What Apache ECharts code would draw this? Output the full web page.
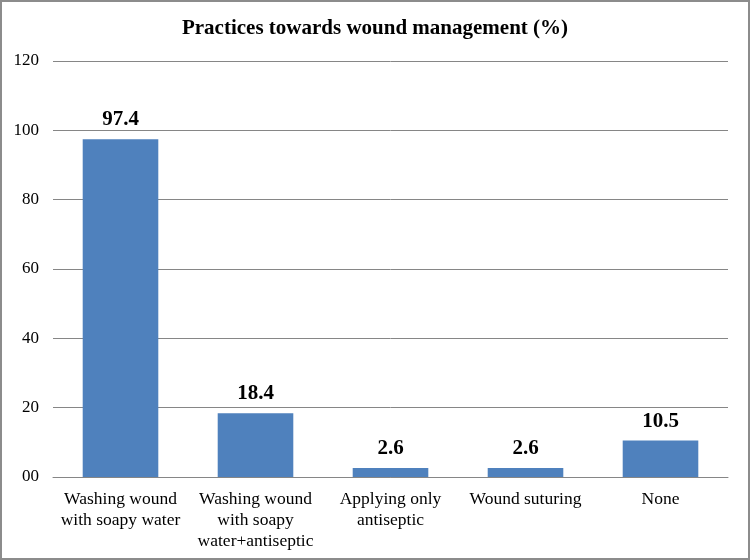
<!DOCTYPE html>
<html>
<head>
<meta charset="utf-8">
<script src="https://cdn.jsdelivr.net/npm/echarts@6/dist/echarts.min.js"></script>
<style>
  html, body { margin: 0; padding: 0; background: #fff; }
  #chart { width: 746px; height: 556px; border: 2px solid #8c8c8c; }
</style>
</head>
<body>
<div id="chart"></div>
<script>
// categories and values
var categories = [
  'Washing wound\nwith soapy water',
  'Washing wound\nwith soapy\nwater+antiseptic',
  'Applying only\nantiseptic',
  'Wound suturing',
  'None'
]
var values = [97.4, 18.4, 2.6, 2.6, 10.5]
var yTicks = [0, 20, 40, 60, 80, 100, 120]

var chart = echarts.init(document.getElementById('chart'))
var font = '"Liberation Serif", "Times New Roman", serif'

var option = {
  animation: false,
  title: {
    text: 'Practices towards wound management (%)',
    left: 'center',
    top: 11,
    textStyle: { fontFamily: font, fontSize: 21, fontWeight: 'bold', color: '#000' }
  },
  grid: { left: 51, right: 20, top: 59, bottom: 81 },
  xAxis: {
    type: 'category',
    data: categories,
    axisTick: { show: false },
    axisLine: { lineStyle: { color: '#868686', width: 1 } },
    axisLabel: {
      interval: 0,
      margin: 12,
      fontFamily: font,
      fontSize: 17.5,
      lineHeight: 21,
      color: '#000'
    }
  },
  yAxis: {
    type: 'value',
    min: yTicks[0],
    max: yTicks[yTicks.length - 1],
    interval: 20,
    axisLine: { show: false },
    axisTick: { show: false },
    splitLine: { lineStyle: { color: '#868686', width: 1 } },
    axisLabel: {
      margin: 14,
      fontFamily: font,
      fontSize: 17,
      color: '#000',
      formatter: function (val) {
        return val === 0 ? '00' : String(val)
      }
    }
  },
  series: [{
    type: 'bar',
    data: values,
    barWidth: '56%',
    itemStyle: { color: '#4f81bd' },
    label: {
      show: true,
      position: 'top',
      distance: 9,
      fontFamily: font,
      fontSize: 21,
      fontWeight: 'bold',
      color: '#000'
    }
  }]
}
chart.setOption(option)
</script>
</body>
</html>
